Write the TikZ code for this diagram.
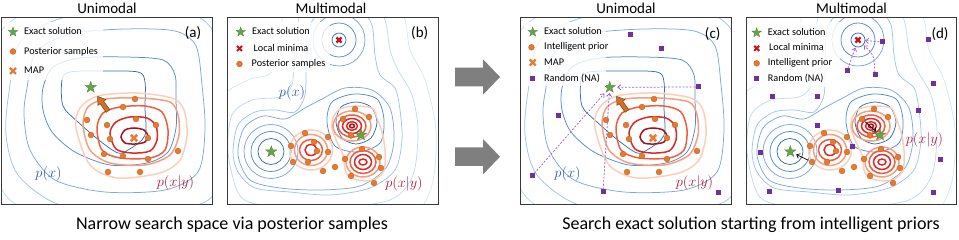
\documentclass[tikz,border=0pt]{standalone}
\usepackage{fontspec}
\setmainfont{Carlito}
\usetikzlibrary{shapes.geometric,arrows.meta}
\definecolor{bA}{RGB}{48,110,180}
\definecolor{bB}{RGB}{82,140,202}
\definecolor{bC}{RGB}{122,170,220}
\definecolor{bD}{RGB}{160,197,233}
\definecolor{bE}{RGB}{193,218,241}
\definecolor{bF}{RGB}{216,232,247}
\definecolor{rA}{RGB}{168,18,30}
\definecolor{rB}{RGB}{220,40,38}
\definecolor{rC}{RGB}{240,92,62}
\definecolor{rD}{RGB}{248,158,128}
\definecolor{rE}{RGB}{252,207,188}
\definecolor{dotor}{RGB}{228,122,48}
\definecolor{dotedge}{RGB}{200,98,28}
\definecolor{grn}{RGB}{100,165,75}
\definecolor{purp}{RGB}{112,48,160}
\definecolor{purpL}{RGB}{160,95,205}
\definecolor{mapor}{RGB}{230,125,55}
\definecolor{lmred}{RGB}{200,20,30}
\definecolor{arrg}{RGB}{127,127,127}
\definecolor{pxblue}{RGB}{45,88,175}
\definecolor{pyred}{RGB}{168,28,58}
\definecolor{arrbrown}{RGB}{210,112,40}
\tikzset{
  frm/.style={draw=black!78, line width=1pt},
  bline/.style={line width=0.75pt},
  rline/.style={line width=1.5pt},
  odot/.style={fill=dotor, draw=dotedge, line width=0.4pt},
  gstar/.style={star, star points=5, star point ratio=2.5, fill=grn, draw=grn!80!black, line width=0.3pt, inner sep=0pt, minimum size=12pt},
  lstar/.style={gstar, minimum size=10pt},
  psq/.style={rectangle, fill=purp, inner sep=0pt, minimum size=5pt},
  leg/.style={font=\fontsize{10.2}{12}\selectfont, anchor=west, inner sep=0pt, text height=1.4ex, text depth=0.3ex},
  ttl/.style={font=\fontsize{15}{16}\selectfont, inner sep=0pt},
  capt/.style={font=\fontsize{18}{20}\selectfont, inner sep=0pt},
  plab/.style={font=\fontsize{13.5}{15}\selectfont, inner sep=0pt},
  pdash/.style={draw=purpL, line width=0.75pt, dash pattern=on 2pt off 1.6pt, -{Straight Barb[length=3pt,width=5pt]}},
  karr/.style={draw=black, line width=0.7pt, -{Straight Barb[length=3pt,width=5pt]}},
  legbg/.style={fill=white, fill opacity=0.8},
}
\newcommand\xcross[4]{\draw[#4] (#1-#3,#2-#3) -- (#1+#3,#2+#3) (#1-#3,#2+#3) -- (#1+#3,#2-#3);}
\newcommand\uniContours{%
  \draw[bline,bE] plot[smooth cycle] coordinates {(-12,95) (2,30) (60,-2) (140,-8) (215,0) (240,60) (246,130) (235,200) (180,235) (80,230) (10,200) (-10,150)};
  \draw[bline,bD] plot[smooth cycle] coordinates {(9,92) (20,42) (62,18) (130,10) (192,14) (218,40) (226,100) (224,168) (205,202) (135,214) (60,205) (18,175) (6,135)};
  \draw[bline,bC] plot[smooth cycle] coordinates {(27,88) (36,52) (70,34) (125,29) (175,31) (196,46) (202,85) (205,130) (198,172) (165,190) (105,192) (55,180) (30,150) (24,115)};
  \draw[bline,bB] plot[smooth cycle] coordinates {(43,88) (53,67) (80,58) (125,57) (163,60) (175,75) (176,100) (176,128) (168,152) (147,163) (110,165) (75,152) (52,132) (43,110)};
  \draw[bline,bA] plot[smooth cycle] coordinates {(62,80) (70,72) (100,71) (138,72) (145,82) (145,108) (146,130) (142,140) (128,150) (118,153) (100,141) (78,122) (63,106)};
  \draw[rline,rE] plot[smooth cycle] coordinates {(76,128) (80,108) (98,96) (135,93) (172,98) (184,110) (187,135) (180,160) (160,173) (118,178) (90,165)};
  \draw[rline,rD] plot[smooth cycle] coordinates {(83,125) (88,107) (106,99) (140,98) (170,102) (178,115) (179,135) (170,155) (145,165) (110,163) (90,150)};
  \draw[rline,rC] plot[smooth cycle] coordinates {(97,128) (103,113) (120,107) (145,106) (162,112) (168,130) (165,150) (150,158) (120,158) (102,150)};
  \draw[rline,rB] plot[smooth cycle] coordinates {(110,133) (116,122) (130,117) (147,118) (156,126) (157,140) (150,151) (132,153) (116,149)};
  \draw[rline,rA] plot[smooth cycle] coordinates {(121,137) (125,130) (134,128) (144,130) (148,136) (145,142) (135,144) (125,143)};
}
\newcommand\uniMarks{%
  \foreach \x/\y in {135/99, 123/107, 87/120, 107/125, 136/119, 156/125, 91/135, 110/139, 148/138, 104/154, 123/156, 148/159, 178/151, 108/172, 140/172}
    {\filldraw[odot] (\x,\y) circle (2.9pt);}
  \xcross{134}{138}{3.2}{mapor, line width=2.6pt}
  \filldraw[fill=arrbrown, draw=arrbrown!60!black, line width=0.5pt] (106.2,112.3) -- (100.1,103.8) -- (97.9,105.4) -- (97.6,96.4) -- (106.0,99.6) -- (103.7,101.2) -- (109.8,109.7) -- cycle;
}
\newcommand\multiContours{%
  \draw[bline,bF] plot[smooth cycle] coordinates {(215,155) (220,100) (248,80) (272,72) (280,35) (290,-5) (340,-20) (390,-12) (405,20) (410,50) (425,80) (436,130) (432,185) (410,215) (330,225) (250,222) (222,200)};
  \draw[bline,bE] plot[smooth cycle] coordinates {(228,152) (232,115) (252,100) (280,97) (292,85) (295,50) (300,15) (320,-2) (345,-5) (370,0) (385,20) (390,50) (398,70) (412,95) (418,130) (413,175) (390,200) (330,208) (270,206) (240,196)};
  \draw[bline,bD] plot[smooth cycle] coordinates {(233,152) (238,125) (255,112) (275,110) (295,112) (305,95) (306,65) (308,30) (320,12) (340,6) (360,10) (372,25) (375,55) (380,75) (395,88) (400,110) (402,140) (395,170) (370,188) (330,195) (290,192) (255,188) (238,172)};
  \draw[bline,bC] plot[smooth cycle] coordinates {(238,155) (244,128) (263,116) (285,119) (305,108) (322,99) (345,88) (372,90) (390,108) (394,140) (386,168) (360,186) (320,190) (280,188) (250,180)};
  \draw[bline,bC] (271,151.5) circle (27pt);
  \draw[bline,bB] (271,151.5) circle (20pt);
  \draw[bline,bA] (271,151.5) circle (13pt);
  \draw[bline,bC] (339,40) circle (26pt);
  \draw[bline,bB] (339,40) circle (17pt);
  \draw[bline,bA] (339,40) circle (7pt);
  \draw[bline,bB] plot[smooth cycle] coordinates {(327,122) (332,102) (354,94) (377,99) (384,120) (380,143) (358,152) (335,146)};
  \draw[bline,bA] plot[smooth cycle] coordinates {(336,122) (341,107) (356,102) (371,107) (377,122) (371,138) (356,144) (342,138)};
  \draw[rline,rE] plot[smooth cycle] coordinates {(333,118) (340,109) (355,106) (372,108) (377,118) (382,132) (385,150) (384,170) (374,180) (357,180) (346,173) (343,155) (336,140) (332,128)};
  \draw[rline,rE] (311,150) ellipse [x radius=21.5pt, y radius=20pt];
  \draw[rline,rD] (311,150) ellipse [x radius=16.5pt, y radius=15.5pt];
  \draw[rline,rC] (311,150) ellipse [x radius=11.5pt, y radius=10.5pt];
  \draw[rline,rB] (311,150) ellipse [x radius=6pt, y radius=5.5pt];
  \draw[rline,rD] (352,126) ellipse [x radius=19pt, y radius=15pt];
  \draw[rline,rC] (352,126) ellipse [x radius=14pt, y radius=11pt];
  \draw[rline,rB] (352,126) ellipse [x radius=9.5pt, y radius=7.5pt];
  \draw[rline,rB] (352,126) ellipse [x radius=5.5pt, y radius=4.3pt];
  \draw[rline,rA] (352,126) ellipse [x radius=2.5pt, y radius=1.8pt];
  \draw[rline,rD] (363,162) ellipse [x radius=17pt, y radius=15pt];
  \draw[rline,rC] (363,162) ellipse [x radius=13pt, y radius=11.5pt];
  \draw[rline,rB] (363,162) ellipse [x radius=8.5pt, y radius=7.5pt];
  \draw[rline,rB] (363,162) ellipse [x radius=4pt, y radius=3pt];
}
\newcommand\multiMarks{%
  \foreach \x/\y in {355/109, 343/119, 369/117, 328/137, 351/135.5, 362/149, 305/133, 291/146, 314/142, 317/151, 328/152, 293/162, 308/162, 323/171, 335/167, 345/159, 379/157, 381/168, 351/176, 374/183}
    {\filldraw[odot] (\x,\y) circle (2.9pt);}
  \xcross{339}{40}{2.6}{lmred, line width=2.2pt}
}
\begin{document}
\begin{tikzpicture}[x=1pt,y=-1pt]
\useasboundingbox (0,0) rectangle (959,240);
% ---------- contours
\begin{scope}
  \clip (1.5,17.5) rectangle (212,204.5);
  \uniContours
\end{scope}
\begin{scope}[shift={(519,0)}]
  \clip (1.5,17.5) rectangle (212,204.5);
  \uniContours
\end{scope}
\begin{scope}
  \clip (227,17.5) rectangle (438,204.5);
  \multiContours
\end{scope}
\begin{scope}[shift={(519,0)}]
  \clip (227,17.5) rectangle (438,204.5);
  \multiContours
\end{scope}
% ---------- markers
\uniMarks
\begin{scope}[shift={(519,0)}]\uniMarks\end{scope}
\multiMarks
\begin{scope}[shift={(519,0)}]\multiMarks\end{scope}
\node[gstar] (starA) at (90.7,87.3) {};
\node[gstar] (starC) at (609.7,87.3) {};
\node[gstar] (starB1) at (271.3,151.7) {};
\node[gstar] (starB2) at (361,135) {};
\node[gstar] (starD1) at (790.3,151.7) {};
\node[gstar] (starD2) at (880,135) {};
% ---------- panel (c) random samples
\node[psq] (sqC1) at (630,35) {};
\node[psq] (sqC2) at (661,49) {};
\node[psq] (sqC3) at (698,87) {};
\node[psq] (sqC4) at (558,116) {};
\node[psq] (sqC5) at (532,176) {};
\node[psq] (sqC6) at (603,192) {};
\node[psq] (sqC7) at (718,193) {};
\draw[pdash, shorten >=4pt] (sqC3) -- (starC);
\draw[pdash, shorten >=3pt] (sqC5) -- (starC);
\draw[pdash, shorten >=3pt] (sqC6) -- (starC);
% ---------- panel (d) random samples
\node[psq] (sqD1) at (882,42) {};
\node[psq] (sqD2) at (928,40) {};
\node[psq] (sqD3) at (847,71) {};
\node[psq] (sqD4) at (875,75) {};
\node[psq] (sqD5) at (772,97) {};
\node[psq] (sqD6) at (817,97) {};
\node[psq] (sqD7) at (933,84) {};
\node[psq] (sqD8) at (918,111) {};
\node[psq] (sqD9) at (817,126) {};
\node[psq] (sqD10) at (852,147) {};
\node[psq] (sqD11) at (760,153) {};
\node[psq] (sqD12) at (940,160) {};
\node[psq] (sqD13) at (769,192) {};
\node[psq] (sqD14) at (838,191) {};
\node[psq] (sqD15) at (933,193) {};
\coordinate (lmD) at (858,40);
\draw[pdash, shorten >=7pt] (sqD1) -- (lmD);
\draw[pdash, shorten >=8pt] (sqD3) -- (lmD);
\draw[pdash, shorten >=8pt] (sqD4) .. controls (874,55) .. (lmD);
\coordinate (dD1) at (812,162);
\coordinate (dD2) at (862,119);
\draw[karr, shorten <=4pt, shorten >=6.5pt] (dD1) -- (starD1.center);
\draw[karr, shorten <=4pt, shorten >=5pt] (dD2) -- (starD2.center);
% ---------- legends
\fill[legbg] (5,22) rectangle (103,80);
\node[lstar] (lsA) at (13,32) {};
\node[leg] (ltA1) at (24,32) {Exact solution};
\filldraw[odot] (13,51.5) circle (2.9pt);
\node[leg] (ltA2) at (24,51.5) {Posterior samples};
\xcross{13}{71}{3}{mapor, line width=2.4pt}
\node[leg] (ltA3) at (24,71) {MAP};
\fill[legbg] (233,22) rectangle (330,72);
\node[lstar] (lsB) at (240.7,32) {};
\node[leg] (ltB1) at (252,32) {Exact solution};
\xcross{239.5}{48.5}{2.5}{lmred, line width=2.1pt}
\node[leg] (ltB2) at (253.5,48.5) {Local minima};
\filldraw[odot] (239.5,64) circle (2.9pt);
\node[leg] (ltB3) at (251.5,64) {Posterior samples};
\fill[legbg] (524,22) rectangle (606,86);
\node[lstar] (lsC) at (532.7,32) {};
\node[leg] (ltC1) at (544,32) {Exact solution};
\filldraw[odot] (531.5,47.3) circle (2.9pt);
\node[leg] (ltC2) at (544,47.3) {Intelligent prior};
\xcross{532.7}{62.5}{3}{mapor, line width=2.4pt}
\node[leg] (ltC3) at (544,62.5) {MAP};
\node[psq] (lqC) at (532.7,78.7) {};
\node[leg] (ltC4) at (544,78.7) {Random (NA)};
\fill[legbg] (750,22) rectangle (840,87);
\node[lstar] (lsD) at (756.7,32.7) {};
\node[leg] (ltD1) at (767.7,32.7) {Exact solution};
\xcross{756.7}{48.3}{2.5}{lmred, line width=2.1pt}
\node[leg] (ltD2) at (769,48.3) {Local minima};
\filldraw[odot] (756.7,63.3) circle (2.9pt);
\node[leg] (ltD3) at (767.7,63.3) {Intelligent prior};
\node[psq] (lqD) at (756.7,79) {};
\node[leg] (ltD4) at (767.7,79) {Random (NA)};
% ---------- panel labels
\node[ttl] (pa) at (193,33) {(a)};
\node[ttl] (pb) at (419.7,33.3) {(b)};
\node[ttl] (pc) at (712.7,34) {(c)};
\node[ttl] (pd) at (940,34) {(d)};
\node[plab, text=pxblue] (pxA) at (48.5,174) {$p(x)$};
\node[plab, text=pxblue] (pxC) at (567.5,174) {$p(x)$};
\node[plab, text=pxblue] (pxB) at (292,93) {$p(x)$};
\node[plab, text=pyred] (pyA) at (175.5,182.5) {$p(x|y)$};
\node[plab, text=pyred] (pyC) at (694.5,182.5) {$p(x|y)$};
\node[plab, text=pyred] (pyB) at (404,184) {$p(x|y)$};
\node[plab, text=pyred] (pyD) at (924.5,140) {$p(x|y)$};
% ---------- frames
\draw[frm] (1.5,17.5) rectangle (212,204.5);
\draw[frm] (227,17.5) rectangle (438,204.5);
\draw[frm] (520.5,17.5) rectangle (731,204.5);
\draw[frm] (746,17.5) rectangle (956,204.5);
% ---------- titles
\node[ttl] (tA) at (107,8.5) {Unimodal};
\node[ttl] (tB) at (331,8.5) {Multimodal};
\node[ttl] (tC) at (626,8.5) {Unimodal};
\node[ttl] (tD) at (851.5,8.5) {Multimodal};
% ---------- big arrows
\fill[arrg] (455,67.7) -- (483,67.7) -- (483,59.3) -- (500,77) -- (483,94.7) -- (483,86.3) -- (455,86.3) -- cycle;
\fill[arrg] (455,147.4) -- (483,147.4) -- (483,139) -- (500,156.7) -- (483,174.4) -- (483,166) -- (455,166) -- cycle;
% ---------- captions
\node[capt] (capL) at (232,225) {Narrow search space via posterior samples};
\node[capt] (capR) at (751,225) {Search exact solution starting from intelligent priors};
\end{tikzpicture}
\end{document}
